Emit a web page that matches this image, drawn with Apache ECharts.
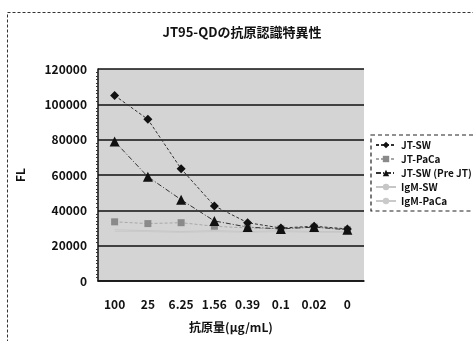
<!DOCTYPE html>
<html><head><meta charset="utf-8">
<script src="https://cdn.jsdelivr.net/npm/echarts@6/dist/echarts.min.js"></script>
<style>html,body{margin:0;padding:0;background:#fff}#c{width:473px;height:341px}</style>
</head><body><div id="c"></div>
<script>
const categories = ['100','25','6.25','1.56','0.39','0.1','0.02','0'];
const jtSW = [105000, 91500, 63500, 42500, 33000, 30000, 31000, 29500];
const jtPaCa = [33500, 32500, 33000, 31000, 30000, 29500, 30500, 29000];
const jtSWPre = [79000, 59000, 46000, 34000, 30500, 29500, 30500, 29000];
const igmSW = [29000, 28500, 28000, 28500, 28000, 28500, 28000, 28000];
const igmPaCa = [28000, 28000, 27500, 28000, 27500, 28000, 27500, 27500];
const yTicks = [0, 20000, 40000, 60000, 80000, 100000, 120000];

const font = '"Noto Sans CJK JP", "Noto Sans", sans-serif';
const chart = echarts.init(document.getElementById('c'));
chart.setOption({
  animation: false,
  textStyle: {fontFamily: font},
  title: {text: 'JT95-QDの抗原認識特異性', left: 237, top: 21, textAlign: 'center',
    textStyle: {fontSize: 13, fontWeight: 'bold', color: '#111', fontFamily: font}},
  graphic: [
    {type: 'rect', shape: {x: 7.5, y: 12.5, width: 480, height: 340},
     style: {fill: null, stroke: '#333', lineWidth: 1, lineDash: [3, 2]}, z: 0}
  ],
  legend: {
    orient: 'vertical', left: 371, top: 135, itemGap: 2, itemWidth: 20, itemHeight: 8,
    padding: [4, 30, 4, 4],
    borderColor: '#222', borderWidth: 1.2, borderType: [4, 3],
    textStyle: {fontSize: 10, fontWeight: 'bold', color: '#111', fontFamily: font, lineHeight: 12},
    data: ['JT-SW', 'JT-PaCa', 'JT-SW (Pre JT)', 'IgM-SW', 'IgM-PaCa']
  },
  grid: {left: 98, right: 109, top: 69, bottom: 60, backgroundColor: '#d4d4d4', show: true, borderWidth: 0},
  xAxis: {
    type: 'category', data: categories, boundaryGap: true,
    name: '抗原量(μg/mL)', nameLocation: 'middle', nameGap: 40,
    nameTextStyle: {fontSize: 12, fontWeight: 'bold', color: '#111'},
    axisLine: {lineStyle: {color: '#111', width: 1.5}},
    axisTick: {inside: true, length: 3, lineStyle: {color: '#111'}},
    axisLabel: {fontSize: 12, fontWeight: 'bold', color: '#111', margin: 17}
  },
  yAxis: {
    type: 'value', min: 0, max: 120000, interval: 20000,
    name: 'FL', nameLocation: 'middle', nameGap: 72, nameRotate: 90,
    nameTextStyle: {fontSize: 12, fontWeight: 'bold', color: '#111'},
    axisLine: {show: true, lineStyle: {color: '#111', width: 1.5}},
    axisTick: {show: false},
    minorTick: {show: true, splitNumber: 10, length: 2, lineStyle: {color: '#333'}},
    splitLine: {lineStyle: {color: '#111', width: 1.5}},
    axisLabel: {fontSize: 12, fontWeight: 'bold', color: '#111', margin: 11,
      formatter: v => yTicks.includes(v) ? String(v) : ''}
  },
  series: [
    {name: 'IgM-SW', type: 'line', data: igmSW, symbol: 'none', z: 1,
     itemStyle: {color: '#c6c6c6'}, lineStyle: {color: '#c6c6c6', width: 1}},
    {name: 'IgM-PaCa', type: 'line', data: igmPaCa, symbol: 'none', z: 1,
     itemStyle: {color: '#cacaca'}, lineStyle: {color: '#cacaca', width: 1}},
    {name: 'JT-PaCa', type: 'line', data: jtPaCa, symbol: 'rect', symbolSize: 7, z: 2,
     itemStyle: {color: '#8a8a8a'}, lineStyle: {color: '#a8a8a8', width: 1, type: [3, 2]}},
    {name: 'JT-SW', type: 'line', data: jtSW, symbol: 'diamond', symbolSize: 9, z: 3,
     itemStyle: {color: '#111'}, lineStyle: {color: '#333', width: 1, type: [3, 2]}},
    {name: 'JT-SW (Pre JT)', type: 'line', data: jtSWPre, symbol: 'triangle', symbolSize: 10, z: 4,
     itemStyle: {color: '#111'}, lineStyle: {color: '#333', width: 1, type: [5, 2, 1, 2]}}
  ]
});
</script></body></html>
